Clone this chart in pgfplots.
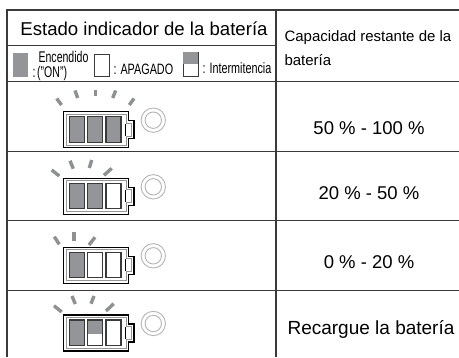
\documentclass[border=0pt]{standalone}
\usepackage{fontspec}
\setmainfont{Liberation Sans}
\usepackage{graphicx}
\usepackage{pgfplots}
\pgfplotsset{compat=1.18}
\definecolor{cellgray}{HTML}{939598}
\definecolor{rulec}{HTML}{3A3A3A}
\definecolor{txt}{HTML}{303030}
\definecolor{ringc}{HTML}{B5B5B5}
\definecolor{raygray}{HTML}{8E9093}
\newcommand{\cellbox}[6]{% off x0 x1 y0 y1 fill
  \addplot[y filter/.expression={y+#1},fill=#6,draw=rulec,line width=1.3pt,no markers] coordinates {(#2,#4) (#3,#4) (#3,#5) (#2,#5)} --cycle;}
\newcommand{\batt}[4]{%
  \addplot[y filter/.expression={y+#1},fill=white,draw=black,line width=1.4pt,no markers] coordinates {(63.5,0) (128.5,0) (128.5,9) (134,9) (134,27) (128.5,27) (128.5,36) (63.5,36)} --cycle;
  \addplot[y filter/.expression={y+#1},draw=cellgray,line width=1pt,no markers] coordinates {(66,2.5) (126,2.5) (126,11.5) (131.5,11.5) (131.5,24.5) (126,24.5) (126,33.5) (66,33.5)} --cycle;
  \addplot[y filter/.expression={y+#1},draw=black,line width=1pt,no markers] coordinates {(125,12) (125,24)};
  \cellbox{#1}{69.5}{84.5}{5}{30.5}{#2}
  \cellbox{#1}{87.5}{102.5}{5}{30.5}{#3}
  \cellbox{#1}{106}{121}{5}{30.5}{#4}
  \addplot[only marks,mark=*,mark size=12.2pt,mark options={fill=white,draw=ringc,line width=0.9pt}] coordinates {(153.3,#1+8.5)};
  \addplot[only marks,mark=*,mark size=8.2pt,mark options={fill=white,draw=ringc,line width=0.9pt}] coordinates {(153.3,#1+8.5)};
}
\newcommand{\ray}[4]{\addplot[raygray,line width=3.4pt,no markers] coordinates {(#1,#2) (#3,#4)};}
\begin{document}
\begin{tikzpicture}
\begin{axis}[
  hide axis, scale only axis, width=459pt, height=357pt,
  xmin=0, xmax=459, ymin=0, ymax=357, y dir=reverse, clip=true,
  every node/.style={inner sep=0pt,outer sep=0pt,text=txt},
]
\path (axis cs:0,0) rectangle (axis cs:459,357);
% table rules
\addplot[rulec,line width=1.8pt,no markers] coordinates {(6.4,9.8) (459,9.8)};
\addplot[rulec,line width=1.3pt,no markers] coordinates {(7,9.8) (7,357)};
\addplot[rulec,line width=1.3pt,no markers] coordinates {(276,9.8) (276,357)};
\addplot[rulec,line width=1pt,no markers] coordinates {(7,45) (276,45)};
\addplot[rulec,line width=1pt,no markers] coordinates {(7,81.7) (459,81.7)};
\addplot[rulec,line width=1.2pt,no markers] coordinates {(7,151.7) (459,151.7)};
\addplot[rulec,line width=1.2pt,no markers] coordinates {(7,220.7) (459,220.7)};
\addplot[rulec,line width=1.2pt,no markers] coordinates {(7,290.7) (459,290.7)};
% legend swatches
\addplot[fill=cellgray,draw=none,no markers] coordinates {(13,53) (28,53) (28,77) (13,77)} --cycle;
\addplot[fill=white,draw=rulec,line width=0.8pt,no markers] coordinates {(94.5,54.5) (109,54.5) (109,76.8) (94.5,76.8)} --cycle;
\addplot[fill=white,draw=rulec,line width=0.8pt,no markers] coordinates {(183,52) (198,52) (198,76.8) (183,76.8)} --cycle;
\addplot[fill=cellgray,draw=none,no markers] coordinates {(183,52) (198,52) (198,63.5) (183,63.5)} --cycle;
% batteries
\batt{111.7}{cellgray}{cellgray}{cellgray}
\batt{178.3}{cellgray}{cellgray}{white}
\batt{247.3}{cellgray}{white}{white}
\batt{315}{cellgray}{white}{white}
% half-lit cell row 4
\addplot[fill=cellgray,draw=rulec,line width=1.3pt,no markers] coordinates {(87.5,320) (102.5,320) (102.5,345.5) (87.5,345.5)} --cycle;
\addplot[fill=white,draw=none,no markers] coordinates {(88.2,334) (101.8,334) (101.8,344.8) (88.2,344.8)} --cycle;
% rays
\ray{56.7}{98.5}{61.5}{105}
\ray{75}{90.5}{77.7}{98}
\ray{95.3}{90}{95.3}{96}
\ray{115.7}{90.5}{112.7}{98}
\ray{134}{98.5}{129.3}{105}
\ray{51.7}{170}{59.3}{176}
\ray{70}{160.7}{73.3}{168.7}
\ray{91.7}{160}{89.3}{168}
\ray{111.7}{168.3}{104}{175.3}
\ray{54.3}{236.7}{59.3}{244.3}
\ray{74}{232.3}{74}{240.7}
\ray{95}{237.3}{89}{245}
\ray{54}{305.7}{61.7}{312}
\ray{72}{296}{75.3}{304}
\ray{94}{296}{91}{303.7}
\ray{113.7}{303.7}{106}{311}
% text
\node[anchor=center,font=\fontsize{18.6}{18.6}\selectfont] at (axis cs:144,29) {Estado indicador de la batería};
\node[anchor=center] at (axis cs:63.5,57) {\scalebox{0.68}[1]{\fontsize{15.5}{15.5}\selectfont Encendido}};
\node[anchor=west] at (axis cs:29,73.5) {\scalebox{0.68}[1]{\fontsize{15.5}{15.5}\selectfont :\,("ON")}};
\node[anchor=west] at (axis cs:110,69) {\scalebox{0.72}[1]{\fontsize{15}{15}\selectfont : APAGADO}};
\node[anchor=west] at (axis cs:199,68) {\scalebox{0.72}[1]{\fontsize{15}{15}\selectfont : Intermitencia}};
\node[anchor=west,font=\fontsize{15}{15}\selectfont] at (axis cs:281,38) {Capacidad restante de la};
\node[anchor=west,font=\fontsize{15}{15}\selectfont] at (axis cs:281,60) {batería};
\node[anchor=center,font=\fontsize{18.5}{18.5}\selectfont] at (axis cs:369,128) {50 \% - 100 \%};
\node[anchor=center,font=\fontsize{18.5}{18.5}\selectfont] at (axis cs:369,193) {20 \% - 50 \%};
\node[anchor=center,font=\fontsize{18.5}{18.5}\selectfont] at (axis cs:369,262) {0 \% - 20 \%};
\node[anchor=center,font=\fontsize{19}{19}\selectfont] at (axis cs:371,329) {Recargue la batería};
\end{axis}
\end{tikzpicture}
\end{document}
